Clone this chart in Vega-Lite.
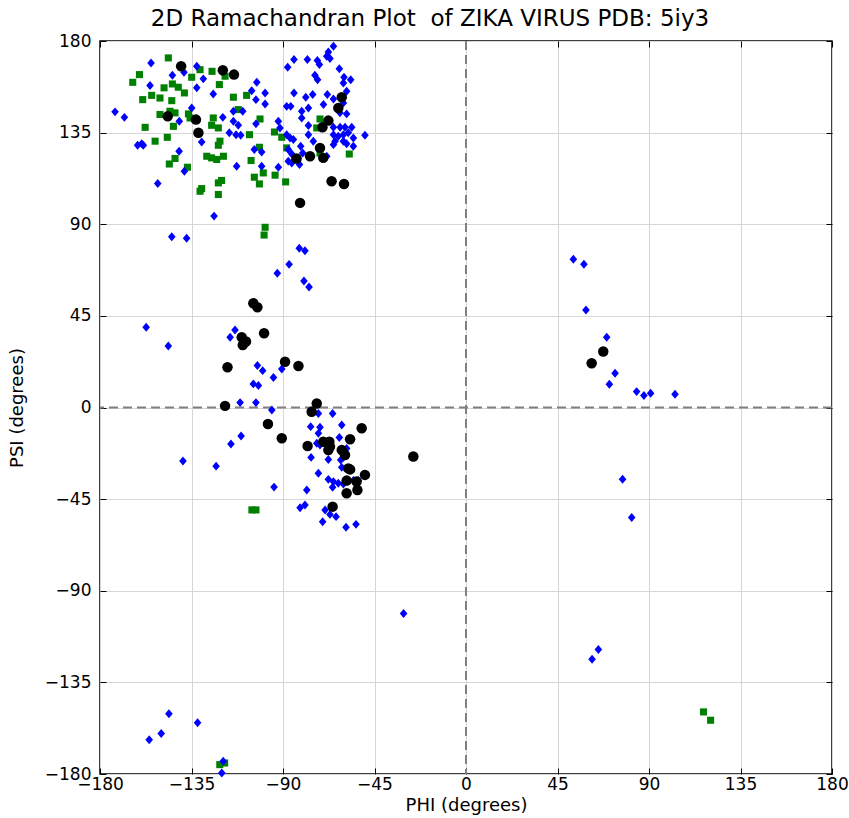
{
  "$schema": "https://vega.github.io/schema/vega-lite/v6.json",
  "width": 732,
  "height": 733,
  "autosize": {"type": "none"},
  "padding": {"left": 100, "top": 41, "right": 17, "bottom": 44},
  "background": "white",
  "title": {"text": "2D Ramachandran Plot\u00a0 of ZIKA VIRUS PDB: 5iy3", "font": "DejaVu Sans", "fontSize": 23, "fontWeight": "normal", "color": "#000", "offset": 1, "anchor": "middle", "dx": -36},
  "config": {
    "view": {"stroke": "#000", "strokeWidth": 1.5},
    "axis": {"domain": false, "gridColor": "#d6d6d6", "gridWidth": 1, "tickColor": "#000", "tickSize": -6, "tickWidth": 1, "labelFont": "DejaVu Sans", "labelFontSize": 17, "labelColor": "#000", "labelFlush": false, "labelOverlap": false, "titleFont": "DejaVu Sans", "titleFontSize": 18, "titleFontWeight": "normal", "titleColor": "#000"},
    "axisX": {"labelPadding": 8, "titlePadding": 4},
    "axisY": {"labelPadding": 15, "titlePadding": 18}
  },
  "resolve": {"axis": {"x": "independent", "y": "independent"}},
  "layer": [
    {
      "data": {"values": [{"v": 0}]},
      "mark": {"type": "rule", "stroke": "#808080", "strokeWidth": 2, "strokeDash": [9, 5]},
      "encoding": {"x": {"field": "v", "type": "quantitative", "scale": {"domain": [-180, 180], "nice": false, "zero": false}, "axis": {"orient": "top", "labels": false, "title": null, "grid": false, "values": [-180, -135, -90, -45, 0, 45, 90, 135, 180]}}}
    },
    {
      "data": {"values": [{"v": 0}]},
      "mark": {"type": "rule", "stroke": "#808080", "strokeWidth": 2, "strokeDash": [9, 5]},
      "encoding": {"y": {"field": "v", "type": "quantitative", "scale": {"domain": [-180, 180], "nice": false, "zero": false}, "axis": {"orient": "right", "labels": false, "title": null, "grid": false, "values": [-180, -135, -90, -45, 0, 45, 90, 135, 180]}}}
    },
    {
      "data": {"values": [
        {"group":"green","phi":-146.4,"psi":171.7},{"group":"green","phi":-160.6,"psi":163.5},{"group":"green","phi":-163.9,"psi":159.7},{"group":"green","phi":-148.5,"psi":157},{"group":"green","phi":-144.4,"psi":158.9},{"group":"green","phi":-141.5,"psi":157.3},{"group":"green","phi":-138.5,"psi":154.5},{"group":"green","phi":-150.5,"psi":152},{"group":"green","phi":-154.6,"psi":153.3},{"group":"green","phi":-159,"psi":151.2},{"group":"green","phi":-144.7,"psi":150.7},{"group":"green","phi":-145.6,"psi":145.5},{"group":"green","phi":-150.5,"psi":143.9},{"group":"green","phi":-143.1,"psi":144.7},{"group":"green","phi":-136.5,"psi":144.2},{"group":"green","phi":-135.7,"psi":142.2},{"group":"green","phi":-157.8,"psi":137.6},{"group":"green","phi":-143.9,"psi":138.1},{"group":"green","phi":-146.9,"psi":132.7},{"group":"green","phi":-152.9,"psi":130.8},{"group":"green","phi":-121.3,"psi":158.6},{"group":"green","phi":-124.9,"psi":165.1},{"group":"green","phi":-134.9,"psi":162.2},{"group":"green","phi":-130.8,"psi":165.9},{"group":"green","phi":-124.3,"psi":142.2},{"group":"green","phi":-121.8,"psi":137.3},{"group":"green","phi":-125.1,"psi":138.6},{"group":"green","phi":-121,"psi":130.8},{"group":"green","phi":-121.8,"psi":128.8},{"group":"green","phi":-127.5,"psi":123.4},{"group":"green","phi":-125.1,"psi":122.6},{"group":"green","phi":-122.6,"psi":121.8},{"group":"green","phi":-119.3,"psi":123.4},{"group":"green","phi":-143.1,"psi":122.3},{"group":"green","phi":-145.9,"psi":119.6},{"group":"green","phi":-137,"psi":118},{"group":"green","phi":-121.8,"psi":110.3},{"group":"green","phi":-120.2,"psi":111.5},{"group":"green","phi":-130.8,"psi":106.2},{"group":"green","phi":-130,"psi":107.5},{"group":"green","phi":-121.8,"psi":104.6},
        {"group":"green","phi":-118.5,"psi":162.7},{"group":"green","phi":-114.4,"psi":152.4},{"group":"green","phi":-107.9,"psi":153.3},{"group":"green","phi":-112,"psi":146.3},{"group":"green","phi":-101.3,"psi":141.7},{"group":"green","phi":-106.5,"psi":134},{"group":"green","phi":-94.2,"psi":135.3},{"group":"green","phi":-90.6,"psi":132.7},{"group":"green","phi":-88.2,"psi":127.5},{"group":"green","phi":-101.6,"psi":127.8},{"group":"green","phi":-105.7,"psi":121.3},{"group":"green","phi":-104.1,"psi":113.1},{"group":"green","phi":-99.7,"psi":115.2},{"group":"green","phi":-101.6,"psi":109.8},{"group":"green","phi":-93.9,"psi":114.1},{"group":"green","phi":-88.7,"psi":110.8},{"group":"green","phi":-71.8,"psi":141.7},{"group":"green","phi":-71.8,"psi":125},{"group":"green","phi":-57.4,"psi":124.5},{"group":"green","phi":-73.4,"psi":137.3},
        {"group":"green","phi":-98.8,"psi":88.5},{"group":"green","phi":-99.3,"psi":84.7},{"group":"green","phi":-103.3,"psi":-50.3},{"group":"green","phi":-105.3,"psi":-50.3},{"group":"green","phi":116.8,"psi":-149.5},{"group":"green","phi":120.3,"psi":-153.6},{"group":"green","phi":-121.1,"psi":-175.4},{"group":"green","phi":-118.7,"psi":-174.6},
        {"group":"blue","phi":-154.9,"psi":169.2},{"group":"blue","phi":-144.4,"psi":163.2},{"group":"blue","phi":-138.7,"psi":164.6},{"group":"blue","phi":-132.4,"psi":167.6},{"group":"blue","phi":-129.2,"psi":161.4},{"group":"blue","phi":-155.4,"psi":158.1},{"group":"blue","phi":-132.4,"psi":157},{"group":"blue","phi":-124.3,"psi":154},{"group":"blue","phi":-172.6,"psi":145.2},{"group":"blue","phi":-168,"psi":142.5},{"group":"blue","phi":-134.9,"psi":147.1},{"group":"blue","phi":-141,"psi":140.6},{"group":"blue","phi":-119.6,"psi":142.5},{"group":"blue","phi":-130,"psi":130.4},{"group":"blue","phi":-161.5,"psi":128.8},{"group":"blue","phi":-159.5,"psi":129.5},{"group":"blue","phi":-158.7,"psi":128.8},{"group":"blue","phi":-141.1,"psi":125.9},{"group":"blue","phi":-138.5,"psi":116},{"group":"blue","phi":-151.6,"psi":110},{"group":"blue","phi":-116.4,"psi":134.9},
        {"group":"blue","phi":-65.2,"psi":177.4},{"group":"blue","phi":-67.7,"psi":174.6},{"group":"blue","phi":-68.5,"psi":172.5},{"group":"blue","phi":-66.9,"psi":171.4},{"group":"blue","phi":-84.6,"psi":170.9},{"group":"blue","phi":-78,"psi":170.9},{"group":"blue","phi":-73.1,"psi":170.4},{"group":"blue","phi":-72.1,"psi":168.4},{"group":"blue","phi":-87.7,"psi":167.1},{"group":"blue","phi":-62.3,"psi":166.4},{"group":"blue","phi":-74.3,"psi":163.2},{"group":"blue","phi":-73,"psi":161},{"group":"blue","phi":-60,"psi":162.2},{"group":"blue","phi":-56.7,"psi":161},{"group":"blue","phi":-102.9,"psi":159.7},{"group":"blue","phi":-60.3,"psi":159.4},{"group":"blue","phi":-105.4,"psi":155.6},{"group":"blue","phi":-98.8,"psi":154.5},{"group":"blue","phi":-58.7,"psi":155.3},{"group":"blue","phi":-84.6,"psi":154.5},{"group":"blue","phi":-78.8,"psi":152.4},{"group":"blue","phi":-75.4,"psi":153.7},{"group":"blue","phi":-68.2,"psi":153.7},{"group":"blue","phi":-103.3,"psi":151.2},{"group":"blue","phi":-65.2,"psi":151.5},{"group":"blue","phi":-98.8,"psi":149.1},{"group":"blue","phi":-60.3,"psi":149.6},{"group":"blue","phi":-88.2,"psi":147.9},{"group":"blue","phi":-86.2,"psi":147.9},{"group":"blue","phi":-70.1,"psi":148.8},{"group":"blue","phi":-77.5,"psi":147.1},{"group":"blue","phi":-80.8,"psi":145.5},{"group":"blue","phi":-109.8,"psi":145.5},{"group":"blue","phi":-114.4,"psi":145.5},{"group":"blue","phi":-62,"psi":144.7},{"group":"blue","phi":-80.8,"psi":142.2},{"group":"blue","phi":-58.7,"psi":144.2},{"group":"blue","phi":-92.3,"psi":140.6},{"group":"blue","phi":-114.4,"psi":140.6},{"group":"blue","phi":-112,"psi":138.6},{"group":"blue","phi":-103.3,"psi":139.3},{"group":"blue","phi":-91.5,"psi":137.3},{"group":"blue","phi":-77.5,"psi":138.5},{"group":"blue","phi":-65.2,"psi":137.6},{"group":"blue","phi":-61.9,"psi":137.6},{"group":"blue","phi":-59.5,"psi":137.6},{"group":"blue","phi":-56.2,"psi":137.6},{"group":"blue","phi":-113.1,"psi":134},{"group":"blue","phi":-110.8,"psi":133.7},{"group":"blue","phi":-88.2,"psi":134},{"group":"blue","phi":-86.5,"psi":132.4},{"group":"blue","phi":-84.9,"psi":131.6},{"group":"blue","phi":-77.5,"psi":134},{"group":"blue","phi":-65.2,"psi":134},{"group":"blue","phi":-62.8,"psi":133.2},{"group":"blue","phi":-60.3,"psi":134},{"group":"blue","phi":-57.9,"psi":134.9},{"group":"blue","phi":-55.4,"psi":132.4},{"group":"blue","phi":-49.7,"psi":133.7},{"group":"blue","phi":-64.4,"psi":130.8},{"group":"blue","phi":-60.3,"psi":130.8},{"group":"blue","phi":-58.7,"psi":129.5},{"group":"blue","phi":-75.1,"psi":130.8},{"group":"blue","phi":-55.4,"psi":128.3},{"group":"blue","phi":-65.2,"psi":129.1},{"group":"blue","phi":-81.3,"psi":128.3},{"group":"blue","phi":-80.3,"psi":125},{"group":"blue","phi":-104.1,"psi":126.7},{"group":"blue","phi":-100.5,"psi":125.5},{"group":"blue","phi":-87.4,"psi":126.7},{"group":"blue","phi":-85.7,"psi":124.5},{"group":"blue","phi":-68.5,"psi":123.4},{"group":"blue","phi":-87.4,"psi":121},{"group":"blue","phi":-85.7,"psi":120.1},{"group":"blue","phi":-81.9,"psi":119.3},{"group":"blue","phi":-100.5,"psi":118.5},{"group":"blue","phi":-92.3,"psi":118},{"group":"blue","phi":-112.8,"psi":118.5},
        {"group":"blue","phi":-123.9,"psi":94},{"group":"blue","phi":-144.7,"psi":83.9},{"group":"blue","phi":-137.4,"psi":83.1},{"group":"blue","phi":-82,"psi":78.2},{"group":"blue","phi":-79.2,"psi":77},{"group":"blue","phi":-87,"psi":70.3},{"group":"blue","phi":-92.8,"psi":65.9},{"group":"blue","phi":-79.7,"psi":62.1},{"group":"blue","phi":-77.2,"psi":59.2},{"group":"blue","phi":-157.3,"psi":39.4},{"group":"blue","phi":-113.6,"psi":38.1},{"group":"blue","phi":-116,"psi":34.5},{"group":"blue","phi":-146.4,"psi":30.2},{"group":"blue","phi":-102.6,"psi":20.6},{"group":"blue","phi":-100,"psi":18.1},{"group":"blue","phi":-90.6,"psi":18.9},{"group":"blue","phi":-94.7,"psi":14.7},{"group":"blue","phi":-104.6,"psi":11.6},{"group":"blue","phi":-102.1,"psi":10.8},{"group":"blue","phi":-111.1,"psi":2.4},{"group":"blue","phi":-103.3,"psi":2.4},{"group":"blue","phi":-95.5,"psi":-1.2},
        {"group":"blue","phi":-110.6,"psi":-14},{"group":"blue","phi":-115.6,"psi":-17.9},{"group":"blue","phi":-122.9,"psi":-28.8},{"group":"blue","phi":-139.2,"psi":-26.3},{"group":"blue","phi":-94.4,"psi":-39.1},
        {"group":"blue","phi":-72.6,"psi":-2.9},{"group":"blue","phi":-65.6,"psi":-2.9},{"group":"blue","phi":-61.1,"psi":-8.6},{"group":"blue","phi":-76.4,"psi":-9.4},{"group":"blue","phi":-71.8,"psi":-9.7},{"group":"blue","phi":-72.6,"psi":-12.7},{"group":"blue","phi":-62.3,"psi":-14.7},{"group":"blue","phi":-73.4,"psi":-17.6},{"group":"blue","phi":-71.8,"psi":-18.4},{"group":"blue","phi":-58.7,"psi":-20.1},{"group":"blue","phi":-76.2,"psi":-24.5},{"group":"blue","phi":-67.7,"psi":-25.5},{"group":"blue","phi":-61.6,"psi":-25.8},{"group":"blue","phi":-60.3,"psi":-24.5},{"group":"blue","phi":-61.1,"psi":-29.4},{"group":"blue","phi":-72.6,"psi":-32.3},{"group":"blue","phi":-67.7,"psi":-35.3},{"group":"blue","phi":-65.2,"psi":-36.4},{"group":"blue","phi":-62.8,"psi":-37.2},{"group":"blue","phi":-60.3,"psi":-37.6},{"group":"blue","phi":-55.4,"psi":-35.9},{"group":"blue","phi":-52.9,"psi":-35.9},{"group":"blue","phi":-65.6,"psi":-39.2},{"group":"blue","phi":-78.3,"psi":-40.5},{"group":"blue","phi":-81.6,"psi":-49.2},{"group":"blue","phi":-79.2,"psi":-47.9},{"group":"blue","phi":-69.3,"psi":-50.3},{"group":"blue","phi":-66.9,"psi":-52.5},{"group":"blue","phi":-63.9,"psi":-53.6},{"group":"blue","phi":-70.5,"psi":-56.1},{"group":"blue","phi":-59,"psi":-58.8},{"group":"blue","phi":-54.1,"psi":-57.4},
        {"group":"blue","phi":52.8,"psi":72.8},{"group":"blue","phi":58,"psi":70.4},{"group":"blue","phi":59,"psi":47.9},{"group":"blue","phi":69.2,"psi":34.5},{"group":"blue","phi":73.3,"psi":16.8},{"group":"blue","phi":70.5,"psi":11.4},{"group":"blue","phi":83.9,"psi":7.8},{"group":"blue","phi":87.5,"psi":5.9},{"group":"blue","phi":90.8,"psi":7},{"group":"blue","phi":102.8,"psi":6.5},{"group":"blue","phi":77,"psi":-35.2},{"group":"blue","phi":81.5,"psi":-54},
        {"group":"blue","phi":-30.7,"psi":-101.2},{"group":"blue","phi":65.1,"psi":-118.9},{"group":"blue","phi":62,"psi":-123.6},{"group":"blue","phi":-146.1,"psi":-150.4},{"group":"blue","phi":-132,"psi":-154.8},{"group":"blue","phi":-149.9,"psi":-160.1},{"group":"blue","phi":-155.8,"psi":-163.2},{"group":"blue","phi":-119.4,"psi":-173.7},{"group":"blue","phi":-120.1,"psi":-179.5},
        {"group":"black","phi":-140.1,"psi":167.6},{"group":"black","phi":-119.6,"psi":165.6},{"group":"black","phi":-146.7,"psi":143},{"group":"black","phi":-132.8,"psi":141.4},{"group":"black","phi":-131.6,"psi":134.9},{"group":"black","phi":-114.1,"psi":163.5},{"group":"black","phi":-61.1,"psi":152.4},{"group":"black","phi":-62.8,"psi":147.1},{"group":"black","phi":-67.7,"psi":140.9},{"group":"black","phi":-70.6,"psi":137.6},{"group":"black","phi":-71.8,"psi":127.5},{"group":"black","phi":-76.7,"psi":123.4},{"group":"black","phi":-83.3,"psi":122.3},{"group":"black","phi":-70.2,"psi":122.6},{"group":"black","phi":-66.1,"psi":111.1},{"group":"black","phi":-60,"psi":109.8},{"group":"black","phi":-81.6,"psi":100.5},
        {"group":"black","phi":-104.6,"psi":51.2},{"group":"black","phi":-102.6,"psi":49.2},{"group":"black","phi":-110.3,"psi":34.5},{"group":"black","phi":-108.2,"psi":32.4},{"group":"black","phi":-109.8,"psi":30.7},{"group":"black","phi":-99.3,"psi":36.5},{"group":"black","phi":-117.3,"psi":19.8},{"group":"black","phi":-89,"psi":22.5},{"group":"black","phi":-82.4,"psi":20.4},{"group":"black","phi":-118.5,"psi":0.8},
        {"group":"black","phi":-73.4,"psi":2},{"group":"black","phi":-75.9,"psi":-2.1},{"group":"black","phi":-51.3,"psi":-10.2},{"group":"black","phi":-90.6,"psi":-15.1},{"group":"black","phi":-97.4,"psi":-8.1},{"group":"black","phi":-57,"psi":-15.6},{"group":"black","phi":-70.2,"psi":-16.8},{"group":"black","phi":-67.2,"psi":-16.8},{"group":"black","phi":-66.9,"psi":-19.2},{"group":"black","phi":-67.7,"psi":-20.9},{"group":"black","phi":-77.9,"psi":-18.9},{"group":"black","phi":-61.1,"psi":-20.9},{"group":"black","phi":-59.5,"psi":-23.3},{"group":"black","phi":-25.9,"psi":-24.1},{"group":"black","phi":-57.9,"psi":-29.9},{"group":"black","phi":-57,"psi":-30.4},{"group":"black","phi":-49.7,"psi":-33.1},{"group":"black","phi":-58.7,"psi":-35.9},{"group":"black","phi":-53.8,"psi":-36.4},{"group":"black","phi":-58.7,"psi":-42.1},{"group":"black","phi":-53.4,"psi":-40.5},{"group":"black","phi":-65.6,"psi":-48.7},
        {"group":"black","phi":67.5,"psi":27.5},{"group":"black","phi":61.8,"psi":21.7}
      ]},
      "mark": {"type": "point", "filled": true, "opacity": 1, "strokeWidth": 0},
      "encoding": {
        "x": {"field": "phi", "type": "quantitative", "scale": {"domain": [-180, 180], "nice": false, "zero": false}, "axis": {"orient": "bottom", "grid": true, "title": "PHI (degrees)", "values": [-180, -135, -90, -45, 0, 45, 90, 135, 180]}},
        "y": {"field": "psi", "type": "quantitative", "scale": {"domain": [-180, 180], "nice": false, "zero": false}, "axis": {"orient": "left", "grid": true, "title": "PSI (degrees)", "values": [-180, -135, -90, -45, 0, 45, 90, 135, 180]}},
        "color": {"field": "group", "type": "nominal", "scale": {"domain": ["green", "blue", "black"], "range": ["#008000", "#0000ff", "#000000"]}, "legend": null},
        "shape": {"field": "group", "type": "nominal", "scale": {"domain": ["green", "blue", "black"], "range": ["square", "M-0.85,0L0,-1L0.85,0L0,1Z", "circle"]}, "legend": null},
        "size": {"field": "group", "type": "nominal", "scale": {"domain": ["green", "blue", "black"], "range": [50, 110, 85]}, "legend": null}
      }
    }
  ]
}
